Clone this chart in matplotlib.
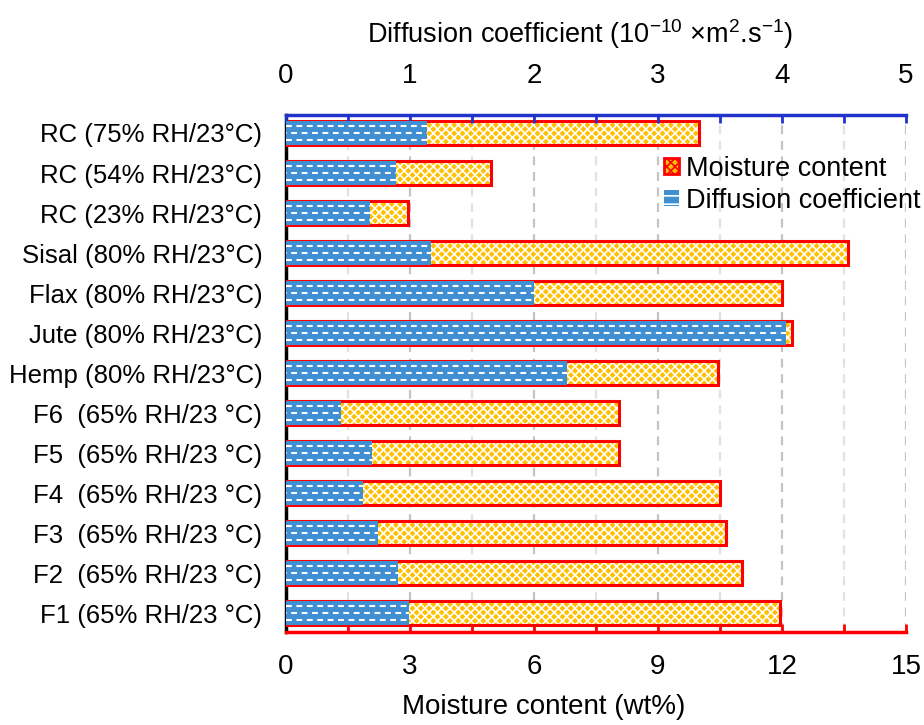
import matplotlib.pyplot as plt
from matplotlib.patches import Patch
from matplotlib.ticker import MultipleLocator
import numpy as np

plt.rcParams['font.family'] = ['Liberation Sans', 'DejaVu Sans']
plt.rcParams['mathtext.default'] = 'regular'
plt.rcParams['hatch.linewidth'] = 1.2

labels = ['RC (75% RH/23°C)', 'RC (54% RH/23°C)', 'RC (23% RH/23°C)',
          'Sisal (80% RH/23°C)', 'Flax (80% RH/23°C)', 'Jute (80% RH/23°C)',
          'Hemp (80% RH/23°C)', 'F6  (65% RH/23 °C)', 'F5  (65% RH/23 °C)',
          'F4  (65% RH/23 °C)', 'F3  (65% RH/23 °C)', 'F2  (65% RH/23 °C)',
          'F1 (65% RH/23 °C)']
moisture = [10.0, 4.95, 2.95, 13.6, 12.0, 12.25, 10.45, 8.05, 8.05, 10.5, 10.65, 11.03, 11.95]
diffusion = [1.14, 0.89, 0.68, 1.17, 2.0, 4.03, 2.27, 0.44, 0.69, 0.62, 0.74, 0.90, 0.99]

yellow = '#FFC000'
blue = '#3F8FD2'
red = '#FF0000'
dblue = '#2233CC'

fig = plt.figure(figsize=(9.24, 7.25), dpi=100)
ax = fig.add_axes([0.3095, 0.1283, 0.671, 0.7131])
y = np.arange(len(labels))
h = 0.6

# dashed grid every 1.5 wt%
for g in np.arange(1.5, 15.1, 1.5):
    c = '#C4C4C4' if g % 3 == 0 else '#E2E2E2'
    ax.axvline(g, color=c, linestyle=(0, (4, 3)), linewidth=1.6, zorder=0)

ax.barh(y, moisture, height=h, color=yellow, edgecolor='white', hatch='xxxx',
        linewidth=0, zorder=2)
ax.barh(y, moisture, height=h, fill=False, edgecolor=red, linewidth=2.2, zorder=3)

ax.set_xlim(0, 15)
ax.set_ylim(len(labels) - 0.53, -0.45)
ax.set_yticks(y)
ax.set_yticklabels(labels, fontsize=18.5)
ax.xaxis.set_major_locator(MultipleLocator(3))
ax.xaxis.set_minor_locator(MultipleLocator(1.5))
ax.tick_params(axis='x', which='both', direction='in', colors=red, length=6,
               width=2, labelsize=20, labelcolor='black', pad=16)
ax.tick_params(axis='y', direction='in', length=4, width=2, pad=17)
ax.set_xlabel('Moisture content (wt%)', fontsize=20, va='center')
ax.xaxis.set_label_coords(0.415, -0.145)
ax.spines['bottom'].set_color(red)
ax.spines['bottom'].set_linewidth(2.5)
ax.spines['left'].set_linewidth(2.5)
ax.spines['top'].set_visible(False)
ax.spines['right'].set_visible(False)

ax2 = ax.twiny()
bars = ax2.barh(y, diffusion, height=h, color=blue, linewidth=0, zorder=4)
# white dashed-horizontal pattern inside the blue bars
for yc, d, b in zip(y, diffusion, bars):
    for k, off in enumerate([-0.18, 0.0, 0.18]):
        ln, = ax2.plot([0, d], [yc + off, yc + off], color='white', lw=1.5,
                       linestyle=(2.5 * (k % 2), (2.8, 2.2)),
                       solid_capstyle='butt', dash_capstyle='butt', zorder=5)
        ln.set_clip_path(b)
ax2.set_xlim(0, 5)
ax2.xaxis.set_major_locator(MultipleLocator(1))
ax2.xaxis.set_minor_locator(MultipleLocator(0.5))
ax2.tick_params(axis='x', which='both', direction='in', colors=dblue, length=6,
                width=2, labelsize=20, labelcolor='black', pad=19)
ax2.set_xlabel('Diffusion coefficient (10$^{-10}$ ×m$^{2}$.s$^{-1}$)', fontsize=19.5,
               va='center')
ax2.xaxis.set_label_coords(0.474, 1.157)
ax2.spines['top'].set_color(dblue)
ax2.spines['top'].set_linewidth(2.5)
for s in ['bottom', 'left', 'right']:
    ax2.spines[s].set_visible(False)

handles = [Patch(facecolor=yellow, edgecolor=red, hatch='xxxx', linewidth=2),
           Patch(facecolor=blue, edgecolor='white', hatch='--', linewidth=0)]
fig.legend(handles, ['Moisture content', 'Diffusion coefficient'],
           loc='upper left', bbox_to_anchor=(0.707, 0.8), frameon=False,
           fontsize=19.5, handlelength=0.55, handleheight=0.55, handletextpad=0.25,
           labelspacing=0.22, borderaxespad=0)

fig.savefig('out.png', dpi=100)
